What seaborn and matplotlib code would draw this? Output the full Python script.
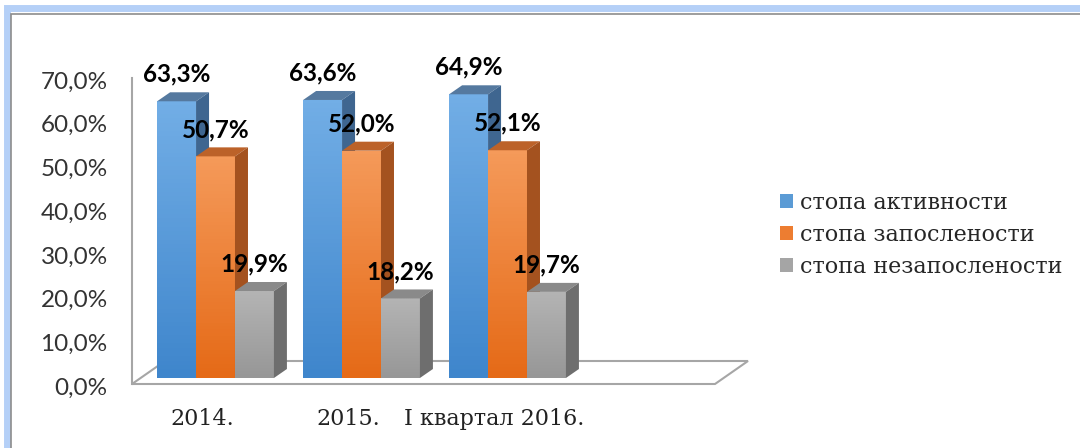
import numpy as np
import pandas as pd
import matplotlib
matplotlib.use('Agg')
import matplotlib.pyplot as plt
import matplotlib.transforms as mtransforms
from matplotlib.patches import Polygon, Rectangle, Patch
from matplotlib.colors import LinearSegmentedColormap
import seaborn as sns

# data
periods = ['2014.', '2015.', 'I квартал 2016.']
series = ['стопа активности', 'стопа запослености', 'стопа незапослености']
activity = [63.3, 63.6, 64.9]
employment = [50.7, 52.0, 52.1]
unemployment = [19.9, 18.2, 19.7]
y_ticks = [0, 10, 20, 30, 40, 50, 60, 70]

df = pd.DataFrame({
    'period': periods * 3,
    'series': [series[0]] * 3 + [series[1]] * 3 + [series[2]] * 3,
    'value': activity + employment + unemployment,
})

# colours (front mid, front top, front bottom, top face, side face)
base = ['#5B9BD5', '#ED7D31', '#A5A5A5']
front_top = ['#72AEE6', '#F59A5A', '#B4B4B4']
front_bot = ['#3F86CC', '#E56A17', '#979797']
top_face = ['#55799F', '#BC6229', '#8A8A8A']
side_face = ['#3F6690', '#A4521F', '#6E6E6E']

sns.set_theme(style='white')
plt.rcParams['font.family'] = ['Lato', 'DejaVu Sans']

W, H = 1080, 448
fig = plt.figure(figsize=(W / 100, H / 100), dpi=100)
fig.patch.set_facecolor('white')

# axes placed in pixels: left wall at 132, floor front at 384, 70% at 72
ax = fig.add_axes([132 / W, (H - 384) / H, (715 - 132) / W, (384 - 72) / H])
ax.set_facecolor('none')

sns.barplot(data=df, x='period', y='value', hue='series', palette=base,
            width=0.8, saturation=1, legend=False, ax=ax, linewidth=0)

px_y = (384 - 72) / 71.37
ax.set_ylim(-6 / px_y, 70)
ax.set_xlim(-0.572, 3.421)

px_x = 146.0
dx = 13 / px_x
dy = 9 / px_y

# floor slab
floor = Polygon([(0, 0), (1, 0), (1 + 33 / 583, 23 / 312), (33 / 583, 23 / 312)],
                closed=True, transform=ax.transAxes, facecolor='white',
                edgecolor='#A6A6A6', lw=1.5, clip_on=False, zorder=0.5)
ax.add_patch(floor)

bars = sorted([p for p in ax.patches if isinstance(p, Rectangle)], key=lambda p: p.get_x())
for i, bar in enumerate(bars):
    k = i % 3
    x, w, h = bar.get_x(), bar.get_width(), bar.get_height()
    z = 2 + i * 0.1
    bar.set_zorder(z)
    cmap = LinearSegmentedColormap.from_list('g%d' % k, [front_bot[k], front_top[k]])
    im = ax.imshow(np.linspace(0, 1, 64).reshape(-1, 1), cmap=cmap, origin='lower',
                   extent=[x, x + w, 0, h], aspect='auto', zorder=z + 0.01)
    im.set_clip_path(bar)
    ax.add_patch(Polygon([(x, h), (x + w, h), (x + w + dx, h + dy), (x + dx, h + dy)],
                         closed=True, facecolor=top_face[k], lw=0, zorder=z + 0.02))
    ax.add_patch(Polygon([(x + w, 0), (x + w + dx, dy), (x + w + dx, h + dy), (x + w, h)],
                         closed=True, facecolor=side_face[k], lw=0, zorder=z + 0.02))
    ax.text(x + w / 2, h + dy + 4.1, f'{h:.1f}%'.replace('.', ','), ha='center', va='center',
            fontsize=17.5, fontweight='bold', color='black', family=['Lato', 'DejaVu Sans'],
            zorder=10)

ax.set_xlim(-0.572, 3.421)
ax.set_ylim(-6 / px_y, 70)

# axes styling
for s in ['top', 'right', 'bottom']:
    ax.spines[s].set_visible(False)
ax.spines['left'].set_color('#A6A6A6')
ax.spines['left'].set_linewidth(1.5)
ax.spines['left'].set_bounds(-6 / px_y, (378 - 78) / px_y)

ax.set_yticks(y_ticks)
ax.set_yticklabels([f'{v:.1f}%'.replace('.', ',') for v in y_ticks],
                   fontsize=17.5, color='#333333')
ax.tick_params(axis='y', length=0, pad=17.5)
off_y = mtransforms.ScaledTranslation(0, -8 / 100, fig.dpi_scale_trans)
for lab in ax.get_yticklabels():
    lab.set_transform(lab.get_transform() + off_y)

ax.set_xticks([0, 1, 2])
ax.set_xticklabels(periods, fontsize=16, family=['DejaVu Serif'], color='#222222')
ax.tick_params(axis='x', length=0, pad=17)
off_x = mtransforms.ScaledTranslation(-13 / 100, 0, fig.dpi_scale_trans)
for lab in ax.get_xticklabels():
    lab.set_transform(lab.get_transform() + off_x)
ax.set_xlabel('')
ax.set_ylabel('')

# legend
handles = [Patch(facecolor=c, edgecolor='none') for c in base]
fig.legend(handles, series, loc='center left', bbox_to_anchor=(760 / W, 1 - 235 / H),
           frameon=False, prop={'family': 'DejaVu Serif', 'size': 16},
           handlelength=0.6, handleheight=0.6, handletextpad=0.3, labelspacing=0.45)

# outer frame
fig.patches.append(Rectangle((7 / W, -0.2), 1.5, 1 - 8 / H + 0.2, transform=fig.transFigure,
                             fill=False, edgecolor='#B5D0F7', lw=5))
fig.patches.append(Rectangle((11 / W, -0.2), 1.5, 1 - 14 / H + 0.2, transform=fig.transFigure,
                             fill=False, edgecolor='#8C8C8C', lw=1.2))

fig.savefig('out.png', dpi=100, facecolor='white')
